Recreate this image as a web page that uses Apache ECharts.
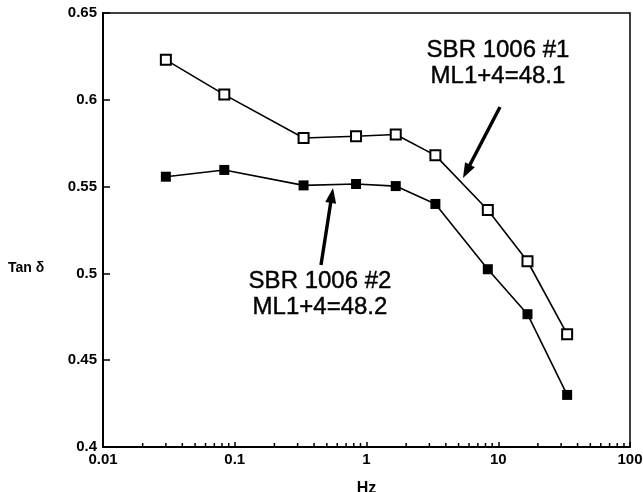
<!DOCTYPE html>
<html>
<head>
<meta charset="utf-8">
<script src="https://cdn.jsdelivr.net/npm/echarts@6/dist/echarts.min.js"></script>
<style>
html,body{margin:0;padding:0;background:#fff;}
#c{width:643px;height:492px;}
</style>
</head>
<body>
<div id="c"></div>
<script>
// ---- data ----
var freqHz = [0.03, 0.0833, 0.333, 0.833, 1.667, 3.333, 8.333, 16.67, 33.33];
var sbr1Tan = [0.623, 0.603, 0.578, 0.579, 0.580, 0.568, 0.5365, 0.507, 0.465];
var sbr2Tan = [0.5557, 0.5596, 0.5507, 0.5515, 0.5503, 0.540, 0.5024, 0.4765, 0.430];
var sbr1Label = ['SBR 1006 #1', 'ML1+4=48.1'];
var sbr2Label = ['SBR 1006 #2', 'ML1+4=48.2'];
var xMinorTicks = [0.02,0.03,0.04,0.05,0.06,0.07,0.08,0.09,
                   0.2,0.3,0.4,0.5,0.6,0.7,0.8,0.9,
                   2,3,4,5,6,7,8,9,
                   20,30,40,50,60,70,80,90];
var xAxisName = 'Hz';
var yAxisName = 'Tan δ';

var chart = echarts.init(document.getElementById('c'));
var FONT = '"Liberation Sans", Arial, Helvetica, sans-serif';

function zip(xs, ys){ return xs.map(function(x,i){ return [x, ys[i]]; }); }

function arrow(x1, y1, x2, y2){
  var dx = x2 - x1, dy = y2 - y1;
  var L = Math.sqrt(dx*dx + dy*dy);
  var ux = dx / L, uy = dy / L;
  var hl = 15, hw = 5.5;
  var bx = x2 - ux*hl, by = y2 - uy*hl;
  var px = -uy, py = ux;
  return [
    { type:'line', shape:{x1:x1, y1:y1, x2:bx + ux*2, y2:by + uy*2},
      style:{stroke:'#000', lineWidth:3.4} },
    { type:'polygon', shape:{points:[[x2,y2],[bx+px*hw,by+py*hw],[bx-px*hw,by-py*hw]]},
      style:{fill:'#000'} }
  ];
}

var option = {
  animation: false,
  backgroundColor: '#fff',
  grid: { left: 103, right: 13, top: 13, bottom: 45, show: true,
          containLabel: false, outerBoundsMode: 'none',
          borderColor: '#000', borderWidth: 1.5, backgroundColor: 'transparent' },
  xAxis: {
    type: 'log', logBase: 10, min: 0.01, max: 100,
    name: xAxisName, nameLocation: 'middle', nameGap: 34,
    nameTextStyle: { fontFamily: FONT, fontWeight: 'bold', fontSize: 16, color: '#000' },
    axisLine: { show: true, lineStyle: { color: '#000', width: 2 } },
    axisTick: { show: true, inside: true, length: 5, lineStyle: { color: '#000', width: 1.5 } },
    splitLine: { show: false },
    axisLabel: { fontFamily: FONT, fontWeight: 'bold', fontSize: 15, color: '#000', margin: 5,
                 formatter: function(v){ return String(v); } }
  },
  yAxis: {
    type: 'value', min: 0.4, max: 0.65, interval: 0.05,
    axisLine: { show: true, lineStyle: { color: '#000', width: 2 } },
    axisTick: { show: true, inside: true, length: 7, lineStyle: { color: '#000', width: 1.5 } },
    splitLine: { show: false },
    axisLabel: { fontFamily: FONT, fontWeight: 'bold', fontSize: 15, color: '#000', margin: 6,
                 formatter: function(v){ return String(Math.round(v*100)/100); } }
  },
  series: [
    {
      type: 'line', name: sbr1Label[0], data: zip(freqHz, sbr1Tan),
      symbol: 'rect', symbolSize: 10,
      lineStyle: { color: '#000', width: 1.6 },
      itemStyle: { color: '#fff', borderColor: '#000', borderWidth: 2 },
      z: 3
    },
    {
      type: 'line', name: sbr2Label[0], data: zip(freqHz, sbr2Tan),
      symbol: 'rect', symbolSize: 10,
      lineStyle: { color: '#000', width: 1.6 },
      itemStyle: { color: '#000', borderColor: '#000', borderWidth: 0 },
      z: 3
    },
    {
      type: 'custom', data: xMinorTicks.map(function(v){ return [v, 0.4]; }),
      clip: false, silent: true,
      renderItem: function(params, api){
        var p = api.coord([api.value(0), api.value(1)]);
        return { type:'line', shape:{x1:p[0], y1:p[1], x2:p[0], y2:p[1]-4},
                 style:{stroke:'#000', lineWidth:1.5} };
      }
    }
  ],
  graphic: [].concat(
    [
      { type:'text', left: 8, top: 261,
        style:{ text: yAxisName, font: 'bold 14px ' + FONT, fill:'#000' } },
      { type:'text', x: 498, y: 63,
        style:{ text: sbr1Label.join('\n'), font: '24px ' + FONT, fill:'#000',
                stroke:'#000', lineWidth:0.4,
                textAlign:'center', textVerticalAlign:'middle', lineHeight: 26 } },
      { type:'text', x: 320, y: 294,
        style:{ text: sbr2Label.join('\n'), font: '24px ' + FONT, fill:'#000',
                stroke:'#000', lineWidth:0.4,
                textAlign:'center', textVerticalAlign:'middle', lineHeight: 26 } }
    ],
    arrow(500, 107, 463, 178),
    arrow(321, 265, 333, 188)
  )
};
chart.setOption(option);
</script>
</body>
</html>
